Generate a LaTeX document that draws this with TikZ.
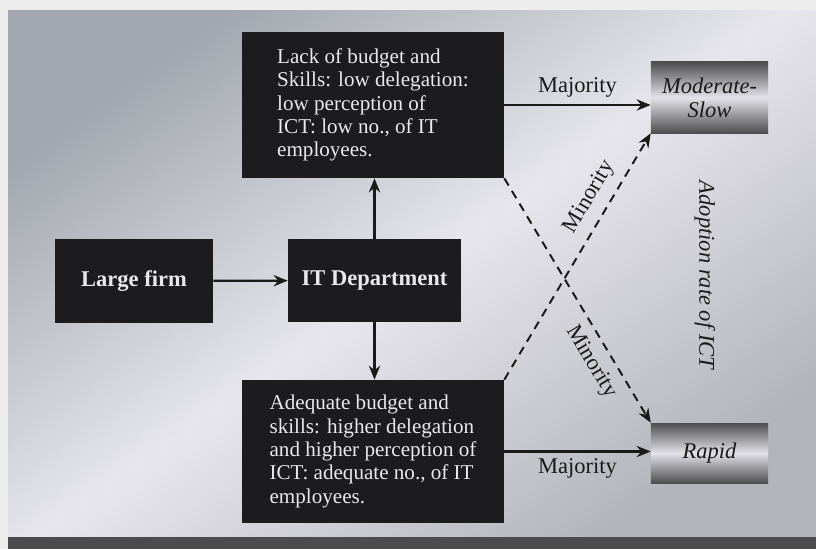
\documentclass[tikz,border=0pt]{standalone}
\usepackage{fontspec}
\setmainfont{Liberation Serif}
\usepackage{xcolor}
\usetikzlibrary{arrows.meta}
\definecolor{frame}{HTML}{EDEDED}
\definecolor{band}{HTML}{4C4C4E}
\definecolor{panelA}{HTML}{B4B5BA}
\definecolor{panelB}{HTML}{E6E6EC}
\definecolor{panelC}{HTML}{A2A6AE}
\definecolor{boxdark}{HTML}{1C1C1E}
\definecolor{boxtext}{HTML}{E9E9E9}
\definecolor{rateedge}{HTML}{4E4E50}
\definecolor{ratemid}{HTML}{E2E2E8}
\definecolor{ink}{HTML}{1A1A1A}

\tikzset{
  darkbox/.style={fill=boxdark, text=boxtext, inner sep=0pt, align=left,
    font=\fontsize{15}{16.6}\selectfont},
  keybox/.style={darkbox, font=\fontsize{16}{18}\selectfont\bfseries},
  ratebox/.style={top color=rateedge, bottom color=rateedge, middle color=ratemid,
    text=ink, inner sep=0pt, align=center, font=\fontsize{16}{17}\selectfont\itshape},
  flow/.style={-{Stealth[length=10pt,width=8pt]}, line width=1.6pt, draw=ink},
  minor/.style={flow, line width=1.4pt, dash pattern=on 6pt off 4.5pt},
  lbl/.style={text=ink, font=\fontsize{16}{18}\selectfont}
}

\begin{document}
\begin{tikzpicture}[x=0.025cm, y=-0.025cm]
  \useasboundingbox (0,0) rectangle (816,549);
  % background
  \fill[frame] (0,0) rectangle (816,549);
  \shade[bottom color=panelA, top color=panelC, middle color=panelB, shading angle=35]
    (8,10) rectangle (816,537);
  \fill[band] (8,537) rectangle (816,549);

  % boxes
  \node[keybox, minimum width=3.95cm, minimum height=2.1cm] (firm) at (134,281) {Large firm};
  \node[keybox, minimum width=4.325cm, minimum height=2.075cm] (itdept) at (374.5,280.5) {IT Department};
  \node[darkbox, minimum width=6.55cm, minimum height=3.65cm] (lack) at (373,105)
    {Lack of budget and\\Skills: low delegation:\\low perception of\\ICT: low no., of IT\\employees.};
  \node[darkbox, minimum width=6.55cm, minimum height=3.575cm] (adequate) at (373,451.5)
    {Adequate budget and\\skills: higher delegation\\and higher perception of\\ICT: adequate no., of IT\\employees.};
  \node[ratebox, minimum width=2.925cm, minimum height=1.775cm] (modslow) at (709.5,97.5) {Moderate-\\Slow};
  \node[ratebox, minimum width=2.925cm, minimum height=1.5cm] (rapid) at (709.5,453) {Rapid};
  \node[lbl, rotate=-90, font=\fontsize{16}{18}\selectfont\itshape] (adoption) at (705,275) {Adoption rate of ICT};

  % connectors
  \draw[flow] (firm) -- (itdept);
  \draw[flow] (itdept.north) -- (itdept.north |- lack.south);
  \draw[flow] (itdept.south) -- (itdept.south |- adequate.north);
  \draw[flow] (lack.east) -- (lack.east -| modslow.west)
    node[lbl, midway, above=1pt] {Majority};
  \draw[flow] (adequate.east) -- (adequate.east -| rapid.west)
    node[lbl, midway, below=1pt] {Majority};
  \draw[minor] (lack.south east) -- (rapid.north west)
    node[lbl, sloped, pos=0.71, below=3pt] {Minority};
  \draw[minor] (adequate.north east) -- (modslow.south west)
    node[lbl, sloped, pos=0.7, above=3pt] {Minority};
\end{tikzpicture}
\end{document}
